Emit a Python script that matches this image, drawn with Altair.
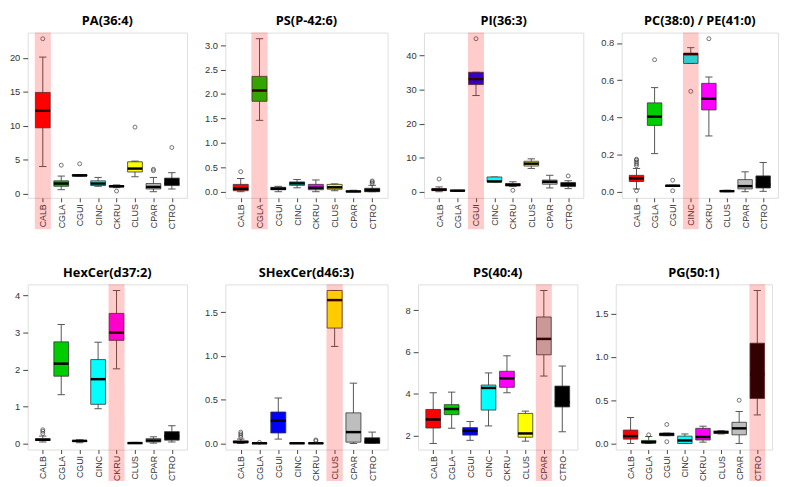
import altair as alt
import pandas as pd

CATS = ["CALB", "CGLA", "CGUI", "CINC", "CKRU", "CLUS", "CPAR", "CTRO"]
COLORS = ["#FF0000", "#00CD00", "#0000FF", "#00FFFF", "#FF00FF", "#FFFF00", "#BEBEBE", "#000000"]

# ---- box statistics per panel (whisker low, Q1, median, Q3, whisker high, outliers) ----
PA_36_4 = dict(
    lo=[4.0, 0.6, 2.6, 1.1, 0.9, 2.5, 0.3, 0.7],
    q1=[9.7, 1.1, 2.6, 1.2, 1.0, 3.2, 0.7, 1.2],
    med=[12.2, 1.5, 2.7, 1.5, 1.1, 3.7, 1.0, 1.5],
    q3=[14.9, 1.9, 2.8, 1.9, 1.2, 4.7, 1.5, 2.3],
    hi=[20.1, 2.6, 2.8, 2.4, 1.3, 4.8, 2.4, 3.1],
    out=[[22.8], [4.2], [4.4], [], [0.4], [9.8], [3.4, 3.6], [6.8]],
)
PS_P42_6 = dict(
    lo=[0.0, 1.46, 0.0, 0.08, 0.0, 0.02, 0.0, 0.0],
    q1=[0.02, 1.85, 0.04, 0.13, 0.04, 0.05, 0.0, 0.0],
    med=[0.06, 2.07, 0.06, 0.17, 0.08, 0.09, 0.005, 0.03],
    q3=[0.15, 2.36, 0.09, 0.20, 0.15, 0.15, 0.015, 0.07],
    hi=[0.27, 3.13, 0.11, 0.25, 0.24, 0.16, 0.03, 0.13],
    out=[[0.41], [], [], [], [], [], [], [0.17, 0.2, 0.22]],
)
PI_36_3 = dict(
    lo=[0.1, 0.2, 28.2, 3.0, 1.6, 6.9, 1.2, 1.0],
    q1=[0.4, 0.3, 31.4, 3.0, 1.8, 7.6, 2.3, 1.6],
    med=[0.7, 0.4, 33.0, 3.1, 2.1, 8.3, 3.0, 2.2],
    q3=[1.0, 0.5, 35.0, 4.4, 2.5, 9.0, 3.5, 2.8],
    hi=[1.5, 0.5, 35.0, 4.4, 3.0, 9.7, 4.9, 3.3],
    out=[[3.8], [], [44.8], [], [0.5], [], [], [4.7]],
)
PC_PE = dict(
    lo=[0.015, 0.205, 0.028, 0.69, 0.30, 0.0, 0.0, 0.002],
    q1=[0.055, 0.357, 0.028, 0.69, 0.44, 0.001, 0.015, 0.02],
    med=[0.072, 0.404, 0.032, 0.74, 0.50, 0.003, 0.03, 0.04],
    q3=[0.088, 0.478, 0.035, 0.745, 0.583, 0.006, 0.065, 0.085],
    hi=[0.125, 0.56, 0.035, 0.775, 0.617, 0.008, 0.107, 0.157],
    out=[[0.005, 0.14, 0.15, 0.16, 0.17, 0.175], [0.71], [0.005, 0.062], [0.54], [0.823], [], [], []],
)
HEXCER_D37_2 = dict(
    lo=[0.04, 1.32, 0.02, 0.94, 2.02, 0.0, 0.01, 0.04],
    q1=[0.08, 1.82, 0.05, 1.06, 2.79, 0.0, 0.04, 0.09],
    med=[0.10, 2.16, 0.07, 1.74, 3.00, 0.01, 0.08, 0.20],
    q3=[0.13, 2.75, 0.08, 2.27, 3.52, 0.02, 0.13, 0.32],
    hi=[0.20, 3.22, 0.10, 2.74, 4.14, 0.03, 0.18, 0.48],
    out=[[0.27, 0.33, 0.37], [], [], [], [], [], [], []],
)
SHEXCER_D46_3 = dict(
    lo=[0.0, 0.0, 0.05, 0.0, 0.0, 1.11, 0.0, 0.0],
    q1=[0.01, 0.0, 0.12, 0.0, 0.0, 1.32, 0.015, 0.0],
    med=[0.015, 0.002, 0.26, 0.002, 0.002, 1.64, 0.13, 0.02],
    q3=[0.03, 0.006, 0.36, 0.005, 0.005, 1.75, 0.35, 0.065],
    hi=[0.05, 0.01, 0.52, 0.008, 0.01, 1.75, 0.69, 0.13],
    out=[[0.07, 0.09, 0.11, 0.13], [0.012], [], [], [0.03, 0.04], [], [], []],
)
PS_40_4 = dict(
    lo=[1.62, 2.35, 1.77, 2.46, 4.05, 1.73, 4.85, 2.18],
    q1=[2.36, 3.00, 2.02, 3.22, 4.31, 1.92, 5.87, 3.37],
    med=[2.77, 3.27, 2.22, 4.28, 4.74, 2.10, 6.63, 3.60],
    q3=[3.25, 3.48, 2.38, 4.42, 5.08, 3.06, 7.68, 4.37],
    hi=[4.05, 4.08, 2.67, 5.00, 5.82, 3.17, 8.95, 5.33],
    out=[[], [], [], [], [], [], [], []],
)
PG_50_1 = dict(
    lo=[0.0, 0.0, 0.09, 0.0, 0.015, 0.11, 0.0, 0.33],
    q1=[0.05, 0.005, 0.09, 0.0, 0.04, 0.115, 0.10, 0.52],
    med=[0.085, 0.015, 0.105, 0.035, 0.075, 0.13, 0.175, 0.80],
    q3=[0.155, 0.035, 0.12, 0.085, 0.175, 0.145, 0.245, 1.16],
    hi=[0.30, 0.08, 0.12, 0.11, 0.20, 0.15, 0.37, 1.77],
    out=[[], [0.10], [0.02, 0.22], [], [], [], [0.50], []],
)

PANELS = [
    ("PA(36:4)", PA_36_4, [0, 5, 10, 15, 20], "d"),
    ("PS(P-42:6)", PS_P42_6, [0, 0.5, 1.0, 1.5, 2.0, 2.5, 3.0], ".1f"),
    ("PI(36:3)", PI_36_3, [0, 10, 20, 30, 40], "d"),
    ("PC(38:0) / PE(41:0)", PC_PE, [0, 0.2, 0.4, 0.6, 0.8], ".1f"),
    ("HexCer(d37:2)", HEXCER_D37_2, [0, 1, 2, 3, 4], "d"),
    ("SHexCer(d46:3)", SHEXCER_D46_3, [0, 0.5, 1.0, 1.5], ".1f"),
    ("PS(40:4)", PS_40_4, [2, 4, 6, 8], "d"),
    ("PG(50:1)", PG_50_1, [0, 0.5, 1.0, 1.5], ".1f"),
]
HIGHLIGHT = ["CALB", "CGLA", "CGUI", "CINC", "CKRU", "CLUS", "CPAR", "CTRO"]

WIDTHS = [162, 165, 162, 159]
H = 168
BAND_EXT = 32

label_expr = "[" + ",".join("'%s'" % c for c in CATS) + "][datum.value - 1]"


def panel(title, d, ticks, fmt, hl, width):
    df = pd.DataFrame({
        "xi": list(range(1, len(CATS) + 1)),
        "cat": CATS,
        "lo": d["lo"], "q1": d["q1"], "med": d["med"], "q3": d["q3"], "hi": d["hi"],
    })
    orows = [{"xi": i + 1, "v": v} for i, vs in enumerate(d["out"]) for v in vs]
    odf = pd.DataFrame(orows if orows else [{"xi": 1, "v": None}])

    allv = d["lo"] + d["hi"] + [v for vs in d["out"] for v in vs]
    vmin, vmax = min(allv), max(allv)
    r = vmax - vmin
    ys = alt.Scale(domain=[vmin - 0.04 * r, vmax + 0.04 * r], nice=False, zero=False)
    xs = alt.Scale(domain=[0.18, 8.82], nice=False, zero=False)

    base = alt.Chart(df).transform_calculate(
        bl="datum.xi - 0.4", br="datum.xi + 0.4",
        cl="datum.xi - 0.2", cr="datum.xi + 0.2",
        hl0="datum.xi - 0.435", hl1="datum.xi + 0.435",
    )

    xaxis = alt.Axis(values=list(range(1, len(CATS) + 1)), labelExpr=label_expr,
                     labelAngle=270, labelFontSize=9, labelFont="Liberation Sans",
                     labelColor="#333", tickColor="#444", tickSize=4, labelPadding=2,
                     domain=False, grid=False, title=None)
    yaxis = alt.Axis(values=ticks, format=fmt, labelFontSize=9.5, labelFont="Liberation Sans",
                     labelColor="#333", tickColor="#444", tickSize=5, labelPadding=3,
                     domain=False, grid=False, title=None)

    def X(f):
        return alt.X(f, scale=xs, axis=xaxis)

    def Y(f):
        return alt.Y(f, scale=ys, axis=yaxis)

    whisk = base.mark_rule(color="#555", strokeWidth=1).encode(
        x=X("xi:Q"), y=Y("lo:Q"), y2="hi:Q",
    )
    cap_lo = base.mark_rule(color="#555", strokeWidth=1).encode(
        x=X("cl:Q"), x2="cr:Q", y=Y("lo:Q"),
    )
    cap_hi = base.mark_rule(color="#555", strokeWidth=1).encode(
        x=X("cl:Q"), x2="cr:Q", y=Y("hi:Q"),
    )
    box = base.mark_rect(stroke="#333", strokeWidth=0.8).encode(
        x=X("bl:Q"), x2="br:Q", y=Y("q1:Q"), y2="q3:Q",
        color=alt.Color("cat:N", scale=alt.Scale(domain=CATS, range=COLORS), legend=None),
    )
    med = base.mark_rule(color="#000", strokeWidth=2.5).encode(
        x=X("bl:Q"), x2="br:Q", y=Y("med:Q"),
    )
    outl = alt.Chart(odf).mark_point(shape="circle", filled=False, color="#222",
                                     size=16, strokeWidth=0.9).encode(
        x=X("xi:Q"), y=Y("v:Q"),
    )
    band = base.transform_filter(alt.datum.cat == hl).mark_rect(
        color="#FF0000", opacity=0.2).encode(
        x=X("hl0:Q"), x2="hl1:Q",
        y=alt.value(0), y2=alt.value(H + BAND_EXT),
    )
    return alt.layer(whisk, cap_lo, cap_hi, box, med, outl, band).properties(
        width=width, height=H,
        title=alt.TitleParams(title, font="Open Sans", fontSize=13, fontWeight="bold",
                              anchor="middle", frame="group", offset=5, color="#000"),
    )


charts = [panel(t, d, tk, f, HIGHLIGHT[i], WIDTHS[i % 4]) for i, (t, d, tk, f) in enumerate(PANELS)]
row1 = alt.hconcat(*charts[:4], spacing=16)
row2 = alt.hconcat(*charts[4:], spacing=16)
chart = alt.vconcat(row1, row2, spacing=36).properties(
    padding={"left": 0, "top": 2, "right": 0, "bottom": 0}
).configure_view(
    stroke="#888", strokeWidth=1
).configure(background="white")

chart.save("out.html", embed_options={"renderer": "svg", "actions": False})
